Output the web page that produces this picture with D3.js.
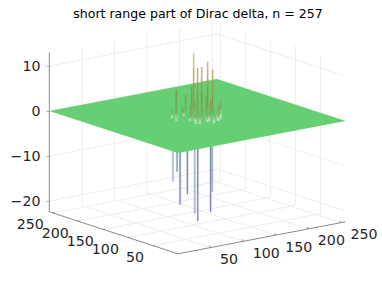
<!DOCTYPE html>
<html>
<head>
<meta charset="utf-8">
<script src="https://cdn.jsdelivr.net/npm/d3@7"></script>
<style>
html, body { margin: 0; padding: 0; background: #fff; }
svg { display: block; }
text { font-family: "DejaVu Sans", sans-serif; fill: #262626; }
</style>
</head>
<body>
<div id="chart-area"></div>
<script>
const title = "short range part of Dirac delta, n = 257";
const zTicks = [-20, -10, 0, 10];
const gridTicks = [50, 100, 150, 200, 250];

// spikes, u runs front to right, v front to left
const upU = [137, 123, 135.5, 150, 140, 111, 123, 117, 137, 155, 128, 112, 130, 146, 120, 143];
const upV = [147, 121, 129, 136, 113, 148, 145, 125, 122, 120, 118, 138, 136, 125, 132, 120];
const upZ = [13, 11.1, 10.7, 11.2, 10.6, 5.6, 4.2, 7, 4.3, 2, 2.5, 2.2, 3, 3.5, 2.4, 2.8];

const downU = [99, 100, 100, 107, 111, 111, 126.5, 131];
const downV = [139, 132, 126, 120.5, 111, 105, 99.5, 102];
const downZ = [-14.2, -11.7, -18.8, -16.5, -20.6, -22, -20.2, -16];
const downPale = [true, false, false, false, true, false, false, true];

// the little ripples around the foot of the spikes
const rippleU = [107, 108, 115, 115, 122, 137, 138, 148, 163, 124, 118, 131, 144];
const rippleV = [151, 144, 126, 114, 115, 116, 108, 113, 127, 150, 120, 112, 106];
const rippleZ = [0.8, 1.1, 0.7, 0.9, 1.1, 0.9, 1.2, 1, 1.6, 0.7, 0.6, 0.8, 0.7];

const w = 382;
const h = 286;
const nMax = 257;
const zMin = -22.4;
const zMax = 13;
const labelSize = "14.2px";

let svg = d3.select("#chart-area").append("svg")
    .attr("width", w)
    .attr("height", h);

// oblique projection: one scale per screen contribution
let uX = d3.scaleLinear().domain([0, nMax]).range([0, 167.5]);
let uY = d3.scaleLinear().domain([0, nMax]).range([0, -32]);
let vX = d3.scaleLinear().domain([0, nMax]).range([0, -128.7]);
let vY = d3.scaleLinear().domain([0, nMax]).range([0, -42]);
let zY = d3.scaleLinear().domain([0, -10]).range([153, 198]);
let zAxisY = d3.scaleLinear().domain([0, -10]).range([111, 156]);

let px = (u, v) => 178 + uX(u) + vX(v);
let py = (u, v, z) => zY(z) + uY(u) + vY(v);

let color = d3.scaleLinear()
    .domain([-22, -14, -6, -1, 0, 1, 4, 9, 13])
    .range(["#6a66a8", "#5a68b0", "#4a8298", "#5cc08a", "#66cf73", "#7fa858", "#858a48", "#b49a50", "#d8c88a"])
    .clamp(true);

let line = d3.line();
let pt = (u, v, z) => [px(u, v), py(u, v, z)];

let drawGrid = () => {
    let g = svg.append("g")
        .attr("fill", "none")
        .attr("stroke", "#eeeeee")
        .attr("stroke-width", 1);
    let seg = (a, b) => g.append("path").attr("d", line([a, b]));

    gridTicks.forEach((t) => {
        // floor
        seg(pt(t, 0, zMin), pt(t, nMax, zMin));
        seg(pt(0, t, zMin), pt(nMax, t, zMin));
        // walls
        seg(pt(t, nMax, zMin), pt(t, nMax, zMax));
        seg(pt(nMax, t, zMin), pt(nMax, t, zMax));
    });
    zTicks.forEach((z) => {
        seg(pt(0, nMax, z), pt(nMax, nMax, z));
        seg(pt(nMax, nMax, z), pt(nMax, 0, z));
    });
};

let drawAxes = () => {
    let axisColor = "#8a8a8a";
    let zAxis = d3.axisLeft(zAxisY)
        .tickValues(zTicks)
        .tickSize(3)
        .tickPadding(6);
    let gz = svg.append("g")
        .attr("transform", "translate(49.5,0)")
        .call(zAxis);
    gz.select(".domain").remove();
    gz.selectAll("line").attr("stroke", "#b0b0b0");
    gz.selectAll("text")
        .style("font-size", labelSize)
        .style("font-family", '"DejaVu Sans", sans-serif')
        .attr("fill", "#262626");

    let axes = svg.append("g").attr("fill", "none").attr("stroke", axisColor);
    axes.append("path").attr("d", line([pt(0, nMax, zMin), pt(0, nMax, zMax)]));
    axes.append("path").attr("d", line([pt(0, 0, zMin), pt(0, nMax, zMin)]));
    axes.append("path").attr("d", line([pt(0, 0, zMin), pt(nMax, 0, zMin)]));

    gridTicks.forEach((t) => {
        axes.append("path").attr("d", line([pt(t, 0, zMin), [px(t, 0) - 1, py(t, 0, zMin) - 2]]));
        axes.append("path").attr("d", line([pt(0, t, zMin), [px(0, t) + 2, py(0, t, zMin) + 0]]));

        svg.append("text")
            .attr("x", px(t, 0) + 9.5)
            .attr("y", py(t, 0, zMin) + 16.5)
            .style("font-size", labelSize)
            .text(t);
        svg.append("text")
            .attr("x", px(0, t) - 9)
            .attr("y", py(0, t, zMin) + 16.5)
            .attr("text-anchor", "end")
            .style("font-size", labelSize)
            .text(t);
    });
};

const fractions = [0, 0.04, 0.1, 0.25, 0.5, 0.75, 1];
const widths = [3.4, 2.2, 1.5, 1.3, 1.2, 1.1];

let drawSpike = (g, u, v, z, pale) => {
    // soft pale edge first, the real spike on top
    g.append("path")
        .attr("d", line([pt(u, v, 0), pt(u, v, z)]))
        .attr("fill", "none")
        .attr("stroke", color(z * 0.7))
        .attr("stroke-width", 2.4)
        .attr("stroke-opacity", 0.2);
    d3.pairs(fractions).forEach(([f0, f1], i) => {
        g.append("path")
            .attr("d", line([pt(u, v, z * f0), pt(u, v, z * f1)]))
            .attr("fill", "none")
            .attr("stroke", color(z * (f0 + f1) / 2))
            .attr("stroke-width", widths[i])
            .attr("stroke-opacity", pale ? 0.4 : 0.8);
    });
};

let drawPlane = () => {
    svg.append("path")
        .attr("d", line([pt(0, 0, 0), pt(nMax, 0, 0), pt(nMax, nMax, 0), pt(0, nMax, 0)]) + "Z")
        .attr("fill", color(0));
};

svg.append("text")
    .attr("x", 198)
    .attr("y", 17.5)
    .attr("text-anchor", "middle")
    .style("font-size", "12.55px")
    .style("fill", "#000")
    .text(title);

drawGrid();
drawAxes();

let below = svg.append("g");
downZ.forEach((z, i) => drawSpike(below, downU[i], downV[i], z, downPale[i]));

drawPlane();

let ripples = svg.append("g");
rippleZ.forEach((z, i) => {
    ripples.append("path")
        .attr("d", line([pt(rippleU[i], rippleV[i], -z), pt(rippleU[i], rippleV[i], z * 0.3)]))
        .attr("stroke", "#e4eedd")
        .attr("stroke-width", 2.4)
        .attr("stroke-opacity", 0.55);
    ripples.append("path")
        .attr("d", line([pt(rippleU[i], rippleV[i], -z * 0.3), pt(rippleU[i], rippleV[i], z * 1.6)]))
        .attr("stroke", "#7f9a68")
        .attr("stroke-width", 1)
        .attr("stroke-opacity", 0.8);
});

let above = svg.append("g");
upZ.forEach((z, i) => drawSpike(above, upU[i], upV[i], z, false));
</script>
</body>
</html>
